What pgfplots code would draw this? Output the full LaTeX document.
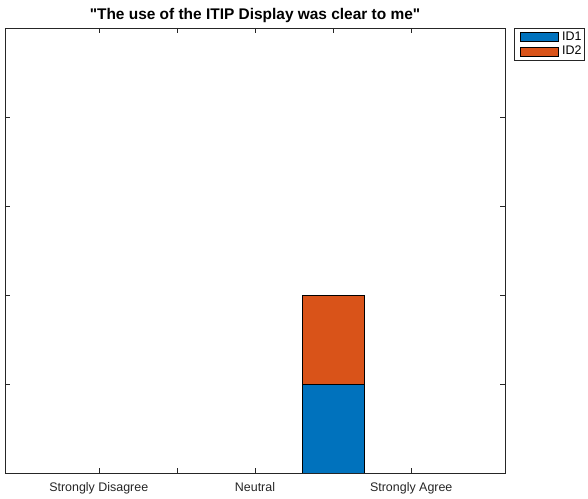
\documentclass[border=0pt]{standalone}
\usepackage{pgfplots}
\pgfplotsset{compat=1.18}
\usepackage{fontspec}
\setmainfont{Liberation Sans}
\definecolor{mblue}{RGB}{0,114,189}
\definecolor{morange}{RGB}{217,83,25}
\definecolor{axgray}{RGB}{38,38,38}
\begin{document}
\begin{tikzpicture}
\begin{axis}[
  scale only axis,
  width=500bp, height=445bp,
  ybar stacked,
  bar width=0.8,
  xmin=-0.2, xmax=6.2,
  ymin=0, ymax=5,
  xtick={1,2,3,4,5},
  xticklabels={Strongly Disagree,,Neutral,,Strongly Agree},
  ytick={0,1,2,3,4,5},
  yticklabels={},
  axis line style={axgray, line width=0.5pt},
  every tick/.style={axgray, line width=0.5pt},
  major tick length=5bp,
  tick label style={font=\fontsize{12.5}{14}\selectfont, text=axgray},
  xticklabel style={yshift=-6bp},
  title={\textbf{\textquotedbl The use of the ITIP Display was clear to me\textquotedbl}},
  title style={font=\fontsize{15.5}{17}\selectfont, yshift=-4bp},
  legend style={at={(1,1)}, anchor=north west, xshift=9bp, draw=axgray,
    font=\fontsize{12.5}{14}\selectfont, inner xsep=1bp, inner ysep=2bp, row sep=0bp,
    cells={anchor=west}},
  legend image code/.code={\path[draw=none,fill=none] (0bp,0bp) -- (45bp,0bp);\draw[#1, draw=black, line width=0.5pt] (5bp,-4.5bp) rectangle (43bp,4.5bp);},
  legend cell align=left,
]
\addplot[fill=mblue, draw=black, line width=0.6pt] coordinates {(1,0) (2,0) (3,0) (4,1) (5,0)};
\addplot[fill=morange, draw=black, line width=0.6pt] coordinates {(1,0) (2,0) (3,0) (4,1) (5,0)};
\legend{ID1,ID2}
\coordinate (bl) at (rel axis cs:0,0);
\coordinate (tr) at (rel axis cs:1,1);
\end{axis}
\pgfresetboundingbox
\path[use as bounding box] ([xshift=-5bp,yshift=-26bp]bl) rectangle ([xshift=83bp,yshift=28bp]tr);
\end{tikzpicture}
\end{document}
